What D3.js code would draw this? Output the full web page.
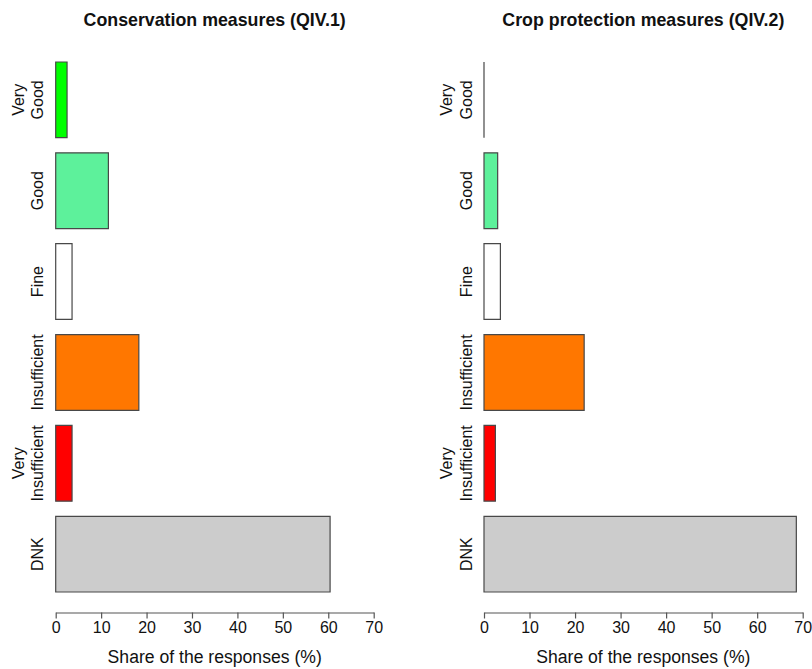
<!DOCTYPE html>
<html>
<head>
<meta charset="utf-8">
<script src="https://cdn.jsdelivr.net/npm/d3@7"></script>
<style>
  html, body { margin: 0; padding: 0; background: #fff; }
  svg { display: block; font-family: "Liberation Sans", Arial, Helvetica, sans-serif; }
</style>
</head>
<body>
<svg id="chart" width="812" height="669"></svg>
<script>
// ---- Data ----
const categories = ["Very Good", "Good", "Fine", "Insufficient", "Very Insufficient", "DNK"];
const categoryLabelLines = [["Very", "Good"], ["Good"], ["Fine"], ["Insufficient"], ["Very", "Insufficient"], ["DNK"]];
const conservationValues = [2.5, 11.6, 3.6, 18.3, 3.6, 60.4];
const cropProtectionValues = [0, 3.0, 3.6, 22.0, 2.5, 68.6];
const barColors = ["#00FF00", "#5DF19B", "#FFFFFF", "#FF7700", "#FF0000", "#CCCCCC"];
const tickValues = [0, 10, 20, 30, 40, 50, 60, 70];
const panelTitles = ["Conservation measures (QIV.1)", "Crop protection measures (QIV.2)"];
const axisTitle = "Share of the responses (%)";

const svg = d3.select("#chart");

const panels = [
  { title: panelTitles[0], values: conservationValues, x0: 55.7, x1: 373.7 },
  { title: panelTitles[1], values: cropProtectionValues, x0: 484, x1: 802.7 }
];

const y = d3.scaleBand()
  .domain(categories)
  .range([62, 592])
  .paddingInner(0.2 / 1.2)
  .paddingOuter(0);

const axisY = 612.5;

panels.forEach(p => {
  const x = d3.scaleLinear().domain([0, 70]).range([p.x0, p.x1]);
  const g = svg.append("g");
  const cx = (p.x0 + p.x1) / 2;

  // title
  g.append("text")
    .attr("x", cx).attr("y", 25.5)
    .attr("text-anchor", "middle")
    .attr("font-weight", "bold")
    .attr("font-size", "17.8px")
    .attr("fill", "#111")
    .text(p.title);

  // bars (path so zero-width bars still draw their border line)
  g.selectAll("path.bar")
    .data(categories.map((c, i) => ({ c, v: p.values[i], col: barColors[i] })))
    .join("path")
    .attr("class", "bar")
    .attr("d", d => {
      const xa = x(0), xb = x(d.v), ya = y(d.c), yb = y(d.c) + y.bandwidth();
      return `M${xa},${ya}H${xb}V${yb}H${xa}Z`;
    })
    .attr("fill", d => d.col)
    .attr("stroke", "#484848")
    .attr("stroke-width", 1.2);

  // category labels (rotated)
  categories.forEach((c, i) => {
    const lines = categoryLabelLines[i];
    const yc = y(c) + y.bandwidth() / 2;
    const baseX = p.x0 - 12.4;
    const t = g.append("text")
      .attr("transform", `translate(${baseX},${yc}) rotate(-90)`)
      .attr("text-anchor", "middle")
      .attr("font-size", "16px")
      .attr("fill", "#111");
    lines.forEach((ln, k) => {
      t.append("tspan")
        .attr("x", 0)
        .attr("y", -(lines.length - 1 - k) * 19.5)
        .text(ln);
    });
  });

  // x axis
  const axis = d3.axisBottom(x)
    .tickValues(tickValues)
    .tickSize(6)
    .tickSizeOuter(0)
    .tickPadding(4)
    .tickFormat(d3.format("d"));
  const ax = g.append("g")
    .attr("transform", `translate(0,${axisY})`)
    .call(axis);
  ax.select(".domain").attr("stroke", "#555").attr("stroke-width", 1.2);
  ax.selectAll(".tick line").attr("stroke", "#555").attr("stroke-width", 1.2);
  ax.selectAll(".tick text")
    .attr("font-size", "16px")
    .attr("font-family", "\"Liberation Sans\", Arial, sans-serif")
    .attr("fill", "#111")
    .attr("dy", null)
    .attr("y", 633.3 - axisY);

  // axis title
  g.append("text")
    .attr("x", cx).attr("y", 663)
    .attr("text-anchor", "middle")
    .attr("font-size", "17.6px")
    .attr("fill", "#111")
    .text(axisTitle);
});
</script>
</body>
</html>
